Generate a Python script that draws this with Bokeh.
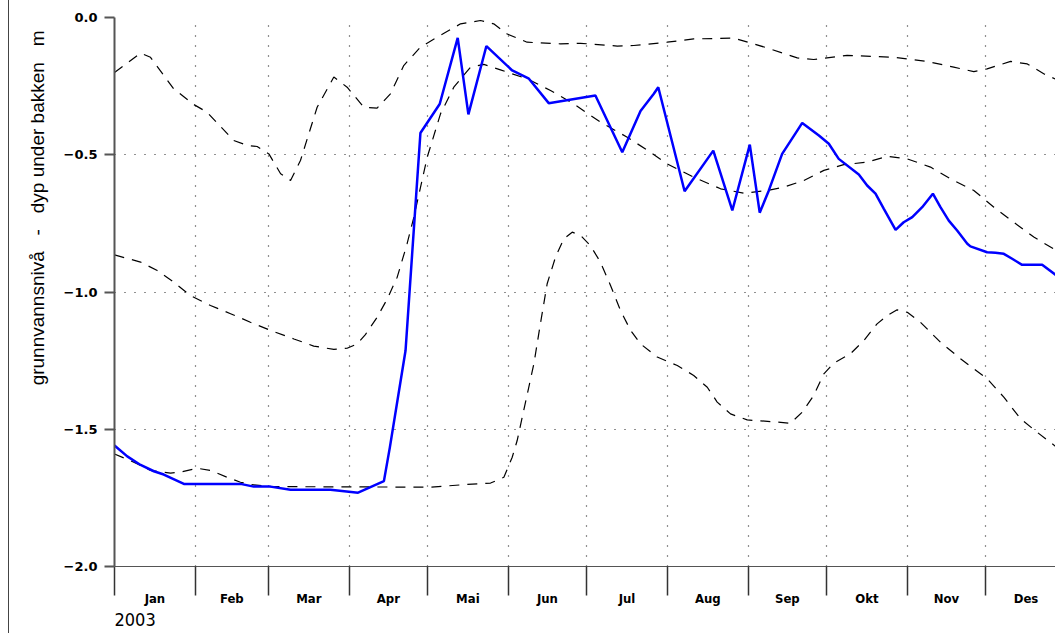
from bokeh.plotting import figure
from bokeh.models import FixedTicker, Range1d, Title
from bokeh.embed import file_html
from bokeh.resources import INLINE

# ---- data (x = day of year 2003, 0 = 1 Jan; y = metres) ----
month_names = ["Jan", "Feb", "Mar", "Apr", "Mai", "Jun", "Jul", "Aug", "Sep", "Okt", "Nov", "Des"]
month_starts = [0, 31, 59, 90, 120, 151, 181, 212, 243, 273, 304, 334, 365]
y_ticks = [-2.0, -1.5, -1.0, -0.5, 0.0]
y_tick_labels = ["\u22122.0", "\u22121.5", "\u22121.0", "\u22120.5", "0.0"]

obs_day = [0, 4.9, 10.0, 15.1, 18.9, 26.6, 48.3, 53.4, 59.8, 67.5,
           82.8, 93.4, 103.3, 105.6, 111.6, 117.3, 124.7, 131.6, 135.7, 142.6,
           152.5, 158.9, 166.5, 184.4, 194.7, 201.7, 206.8, 208.5, 218.6, 229.6,
           236.9, 243.6, 247.4, 250.9, 256.0, 261.8, 263.7, 270.1, 273.9, 277.7,
           285.4, 288.6, 291.8, 295.0, 299.5, 302.6, 305.9, 309.7, 313.8, 316.7,
           319.9, 323.1, 327.0, 328.2, 334.6, 337.8, 341.0, 344.2, 348.0, 355.7,
           361.2]
obs_val = [-1.559, -1.599, -1.63, -1.653, -1.665, -1.699, -1.699, -1.709, -1.709, -1.72,
           -1.72, -1.731, -1.689, -1.565, -1.213, -0.421, -0.315, -0.074, -0.353, -0.104,
           -0.193, -0.223, -0.312, -0.284, -0.491, -0.341, -0.278, -0.254, -0.633, -0.485,
           -0.703, -0.463, -0.711, -0.63, -0.497, -0.412, -0.384, -0.43, -0.46, -0.515,
           -0.572, -0.612, -0.642, -0.697, -0.774, -0.746, -0.727, -0.691, -0.642, -0.691,
           -0.74, -0.776, -0.824, -0.834, -0.855, -0.857, -0.861, -0.879, -0.901, -0.901,
           -0.94]

max_day = [0, 10.0, 13.8, 22.7, 30.4, 35.5, 45.7, 50.9, 54.7, 59.2,
           63.7, 67.5, 71.3, 77.7, 84.1, 89.2, 95.6, 100.7, 105.8, 110.9,
           117.3, 123.7, 132.7, 140.3, 145.4, 150.6, 158.2, 171.0, 178.7, 192.8,
           199.1, 211.9, 222.1, 237.5, 250.3, 261.8, 268.1, 280.9, 298.8, 311.6,
           321.8, 329.5, 334.6, 343.6, 350.0, 356.3, 361.2]
max_val = [-0.2, -0.13, -0.145, -0.26, -0.317, -0.345, -0.448, -0.466, -0.47, -0.497,
           -0.569, -0.594, -0.521, -0.327, -0.217, -0.254, -0.327, -0.33, -0.278, -0.175,
           -0.108, -0.072, -0.023, -0.011, -0.023, -0.06, -0.09, -0.096, -0.094, -0.104,
           -0.102, -0.09, -0.078, -0.075, -0.111, -0.147, -0.153, -0.138, -0.145, -0.16,
           -0.181, -0.197, -0.187, -0.16, -0.169, -0.205, -0.226]

mid_day = [0, 10.0, 16.4, 22.7, 29.1, 36.8, 44.5, 52.1, 59.8, 68.8,
           76.4, 84.1, 89.2, 93.1, 96.2, 100.7, 104.6, 108.4, 112.2, 114.8,
           119.9, 125.0, 130.1, 136.5, 141.6, 148.0, 158.2, 167.2, 176.1, 186.3,
           196.6, 205.5, 211.9, 222.1, 232.4, 241.3, 250.3, 256.6, 264.3, 272.0,
           279.6, 288.6, 296.3, 304.0, 312.9, 320.6, 329.5, 337.2, 344.8, 352.5,
           361.2]
mid_val = [-0.865, -0.891, -0.922, -0.964, -1.013, -1.049, -1.079, -1.11, -1.14, -1.171,
           -1.197, -1.209, -1.205, -1.189, -1.155, -1.092, -1.025, -0.946, -0.824, -0.727,
           -0.509, -0.351, -0.254, -0.181, -0.171, -0.191, -0.223, -0.266, -0.315, -0.381,
           -0.436, -0.491, -0.533, -0.582, -0.624, -0.64, -0.63, -0.618, -0.594, -0.557,
           -0.536, -0.527, -0.506, -0.515, -0.545, -0.588, -0.63, -0.691, -0.746, -0.8,
           -0.849]

min_day = [0, 7.4, 13.8, 21.5, 25.3, 31.7, 36.8, 43.2, 48.3, 52.1,
           59.8, 121.2, 135.2, 144.2, 149.3, 152.5, 154.4, 156.9, 160.8, 163.3,
           165.9, 169.1, 172.3, 175.5, 178.7, 182.5, 186.3, 190.2, 194.0, 197.9,
           201.7, 208.1, 215.8, 222.1, 227.3, 231.1, 236.2, 242.6, 251.5, 259.2,
           263.7, 268.1, 272.0, 275.8, 282.2, 287.3, 292.4, 296.3, 300.1, 304.0,
           309.0, 316.7, 324.4, 329.5, 334.6, 341.0, 347.4, 353.8, 361.2]
min_val = [-1.59, -1.62, -1.65, -1.66, -1.656, -1.642, -1.65, -1.675, -1.693, -1.701,
           -1.709, -1.711, -1.701, -1.696, -1.675, -1.602, -1.541, -1.432, -1.262, -1.116,
           -0.97, -0.873, -0.806, -0.782, -0.794, -0.831, -0.891, -0.976, -1.067, -1.14,
           -1.189, -1.237, -1.268, -1.304, -1.347, -1.401, -1.444, -1.466, -1.472, -1.478,
           -1.438, -1.377, -1.298, -1.259, -1.225, -1.177, -1.116, -1.086, -1.065, -1.074,
           -1.11, -1.183, -1.243, -1.28, -1.316, -1.383, -1.462, -1.511, -1.565]

year_label = "2003"
y_label = "grunnvannsniv\u00e5\u00a0\u00a0\u00a0-\u00a0\u00a0\u00a0dyp\u00a0under\u00a0bakken\u00a0\u00a0\u00a0m"

# ---- figure ----
month_mids = [(a + b) / 2 for a, b in zip(month_starts[:-1], month_starts[1:])]

p = figure(width=1047, height=633, x_range=Range1d(0, 361.2), y_range=Range1d(-2.0, 0.0),
           output_backend="svg", toolbar_location=None, title=None,
           min_border_left=105, min_border_right=0, min_border_top=17, min_border_bottom=67)
p.styles = {"margin-left": "8px", "border-left": "1px solid #444"}
p.outline_line_color = None
p.background_fill_color = "white"
p.border_fill_color = "white"

num_font = "DejaVu Sans"
cond_font = "'Liberation Sans Narrow', 'DejaVu Sans Condensed', 'Liberation Sans', sans-serif"

# x axis: labels mid-month, long ticks at month boundaries
xa = p.xaxis[0]
xa.ticker = FixedTicker(ticks=month_mids, minor_ticks=month_starts)
xa.major_label_overrides = {m: n for m, n in zip(month_mids, month_names)}
xa.major_tick_in = 0
xa.major_tick_out = 0
xa.minor_tick_in = 0
xa.minor_tick_out = 29
xa.minor_tick_line_color = "#333"
xa.minor_tick_line_width = 1.5
xa.axis_line_color = "#555"
xa.axis_line_width = 1
xa.major_label_standoff = -5
xa.major_label_text_font = cond_font
xa.major_label_text_font_style = "bold"
xa.major_label_text_font_size = "13px"
xa.major_label_text_color = "black"

ya = p.yaxis[0]
ya.ticker = FixedTicker(ticks=y_ticks)
ya.major_label_overrides = {t: s for t, s in zip(y_ticks, y_tick_labels)}
ya.major_tick_in = 0
ya.major_tick_out = 10
ya.major_tick_line_width = 2
ya.major_tick_line_color = "#555"
ya.minor_tick_out = 0
ya.minor_tick_in = 0
ya.axis_line_color = "#555"
ya.axis_line_width = 2
ya.major_label_standoff = 7
ya.major_label_text_font = num_font
ya.major_label_text_font_style = "bold"
ya.major_label_text_font_size = "13px"
ya.major_label_text_color = "black"

p.xgrid.ticker = FixedTicker(ticks=month_starts)
p.ygrid.ticker = FixedTicker(ticks=y_ticks[1:])
for g in (p.xgrid[0], p.ygrid[0]):
    g.grid_line_color = "#222"
    g.grid_line_width = 1.2
    g.grid_line_dash = "1 9"

dash = "10 8"
p.line(max_day, max_val, line_color="black", line_width=1.2, line_dash=dash)
p.line(mid_day, mid_val, line_color="black", line_width=1.2, line_dash=dash)
p.line(min_day, min_val, line_color="black", line_width=1.2, line_dash=dash)
p.line(obs_day, obs_val, line_color="#0000ff", line_width=2.5)

p.add_layout(Title(text=y_label, align="right", text_font="Liberation Sans", padding=8, offset=5,
                   text_font_style="normal", text_font_size="19px", text_color="black"), "left")
p.add_layout(Title(text=year_label, align="left", text_font=cond_font, standoff=4,
                   text_font_style="normal", text_font_size="18px", text_color="black"), "below")

open("out.html", "w").write(file_html(p, INLINE))
